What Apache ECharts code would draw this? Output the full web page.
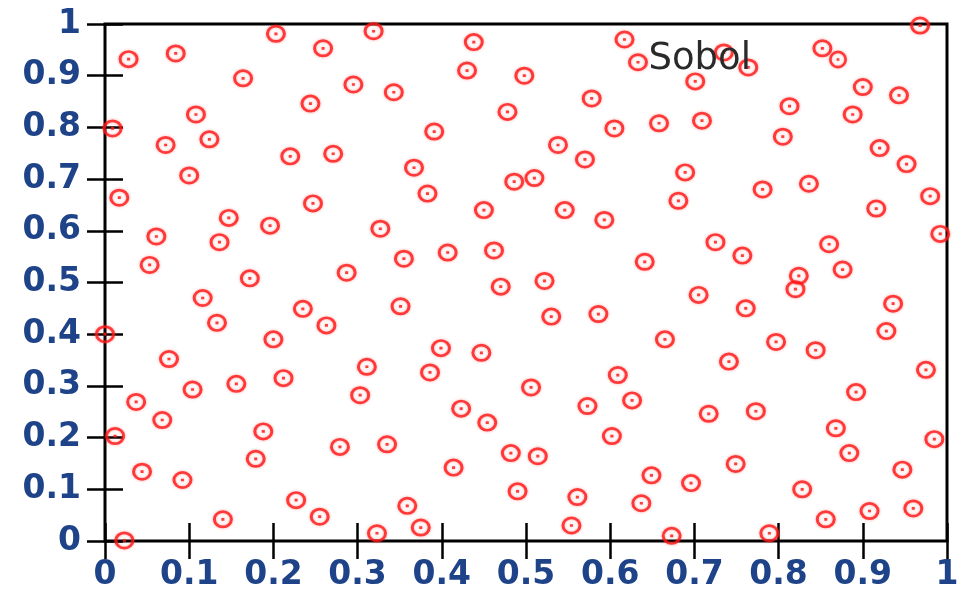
<!DOCTYPE html>
<html>
<head>
<meta charset="utf-8">
<script src="https://cdn.jsdelivr.net/npm/echarts@6/dist/echarts.min.js"></script>
<style>
  html, body { margin: 0; padding: 0; background: #ffffff; }
  #chart { width: 964px; height: 593px; }
</style>
</head>
<body>
<div id="chart"></div>
<script>
// ---- data ----
const seriesName = 'Sobol';
const xValues = [
  0.028, 0.084, 0.164, 0.009, 0.108, 0.072, 0.124, 0.100, 0.017, 0.203,
  0.259, 0.319, 0.438, 0.295, 0.343, 0.430, 0.244, 0.391, 0.220, 0.271,
  0.367, 0.383, 0.247, 0.450, 0.498, 0.478, 0.578, 0.617, 0.633, 0.701,
  0.605, 0.658, 0.709, 0.538, 0.570, 0.486, 0.510, 0.689, 0.681, 0.546,
  0.735, 0.968, 0.852, 0.764, 0.900, 0.943, 0.813, 0.888, 0.805, 0.920,
  0.952, 0.781, 0.836, 0.980, 0.916, 0.147, 0.061, 0.136, 0.053, 0.116,
  0.133, 0.000, 0.076, 0.104, 0.156, 0.037, 0.196, 0.327, 0.355, 0.407,
  0.287, 0.172, 0.351, 0.235, 0.263, 0.200, 0.399, 0.447, 0.311, 0.212,
  0.386, 0.303, 0.593, 0.462, 0.725, 0.641, 0.522, 0.470, 0.705, 0.530,
  0.586, 0.665, 0.609, 0.506, 0.573, 0.626, 0.992, 0.757, 0.860, 0.876,
  0.824, 0.820, 0.761, 0.936, 0.928, 0.797, 0.844, 0.741, 0.975, 0.892,
  0.068, 0.012, 0.044, 0.092, 0.140, 0.023, 0.423, 0.188, 0.179, 0.279,
  0.335, 0.414, 0.227, 0.255, 0.359, 0.323, 0.375, 0.717, 0.454, 0.602,
  0.482, 0.514, 0.649, 0.696, 0.490, 0.561, 0.637, 0.554, 0.673, 0.773,
  0.868, 0.985, 0.884, 0.749, 0.947, 0.828, 0.856, 0.908, 0.960, 0.789
];
const yValues = [
  0.932, 0.943, 0.895, 0.798, 0.825, 0.766, 0.777, 0.707, 0.664, 0.981,
  0.953, 0.986, 0.965, 0.883, 0.868, 0.910, 0.846, 0.792, 0.744, 0.749,
  0.722, 0.672, 0.653, 0.640, 0.900, 0.830, 0.856, 0.970, 0.926, 0.889,
  0.798, 0.808, 0.813, 0.766, 0.738, 0.695, 0.702, 0.713, 0.658, 0.640,
  0.945, 0.997, 0.953, 0.916, 0.878, 0.862, 0.841, 0.825, 0.782, 0.760,
  0.729, 0.680, 0.691, 0.667, 0.643, 0.625, 0.589, 0.578, 0.534, 0.470,
  0.422, 0.400, 0.352, 0.293, 0.304, 0.269, 0.610, 0.604, 0.546, 0.558,
  0.519, 0.508, 0.454, 0.449, 0.417, 0.390, 0.373, 0.364, 0.337, 0.315,
  0.326, 0.282, 0.621, 0.562, 0.578, 0.540, 0.503, 0.492, 0.476, 0.434,
  0.439, 0.390, 0.321, 0.297, 0.261, 0.272, 0.594, 0.552, 0.574, 0.525,
  0.513, 0.487, 0.450, 0.459, 0.406, 0.385, 0.369, 0.347, 0.331, 0.288,
  0.234, 0.203, 0.134, 0.118, 0.042, 0.001, 0.256, 0.212, 0.159, 0.182,
  0.187, 0.142, 0.079, 0.047, 0.068, 0.015, 0.026, 0.246, 0.229, 0.203,
  0.170, 0.164, 0.127, 0.112, 0.096, 0.085, 0.073, 0.030, 0.010, 0.251,
  0.218, 0.197, 0.170, 0.149, 0.138, 0.100, 0.042, 0.058, 0.063, 0.015
];
const axisTicks = [0, 0.1, 0.2, 0.3, 0.4, 0.5, 0.6, 0.7, 0.8, 0.9, 1];
// ----------------------------------------------

const points = xValues.map((x, i) => [x, yValues[i]]);

// ring with a small centre dot, as one symbol
const ringDot = 'path://M0,10 A10,10 0 1,1 20,10 A10,10 0 1,1 0,10 Z ' +
                'M3,10 A7,7 0 1,0 17,10 A7,7 0 1,0 3,10 Z ' +
                'M8.5,8.5 L11.5,8.5 L11.5,11.5 L8.5,11.5 Z';
const markColor = '#ff1414';

const labelFont = {
  fontFamily: 'DejaVu Sans',
  fontSize: 33,
  fontWeight: 'bold',
  color: '#1e4388',
  lineHeight: 36
};

function valueAxis(pos, showLabel, margin) {
  return {
    type: 'value',
    position: pos,
    min: axisTicks[0],
    max: axisTicks[axisTicks.length - 1],
    interval: axisTicks[1] - axisTicks[0],
    axisLine: { show: false },
    splitLine: { show: false },
    axisTick: { show: true, inside: true, length: 18, lineStyle: { color: '#000', width: 2.5 } },
    axisLabel: Object.assign({ show: showLabel, margin: margin,
      formatter: v => String(parseFloat(v.toFixed(1))) }, labelFont)
  };
}

const markStyle = {
  color: markColor,
  shadowBlur: 3,
  shadowColor: 'rgba(255, 60, 60, 0.55)'
};

const chart = echarts.init(document.getElementById('chart'), null, { renderer: 'canvas' });
chart.setOption({
  animation: false,
  backgroundColor: '#ffffff',
  grid: {
    left: 105, right: 17, top: 24, bottom: 52,
    show: true, borderColor: '#000', borderWidth: 3, backgroundColor: 'transparent'
  },
  legend: {
    data: [{ name: seriesName, icon: ringDot, itemStyle: markStyle }],
    right: 117,
    top: 41,
    padding: 0,
    align: 'right',
    itemWidth: 20,
    itemHeight: 18,
    textStyle: {
      fontFamily: 'DejaVu Sans',
      fontSize: 37,
      color: '#2a2a2a',
      lineHeight: 36,
      padding: [0, 72, 0, 0]
    }
  },
  xAxis: [valueAxis('bottom', true, 16), valueAxis('top', false, 8)],
  yAxis: [valueAxis('left', true, 24), valueAxis('right', false, 8)],
  series: [{
    name: seriesName,
    type: 'scatter',
    xAxisIndex: 0,
    yAxisIndex: 0,
    clip: false,
    symbol: ringDot,
    symbolSize: [20, 18],
    itemStyle: markStyle,
    data: points
  }]
});
</script>
</body>
</html>
